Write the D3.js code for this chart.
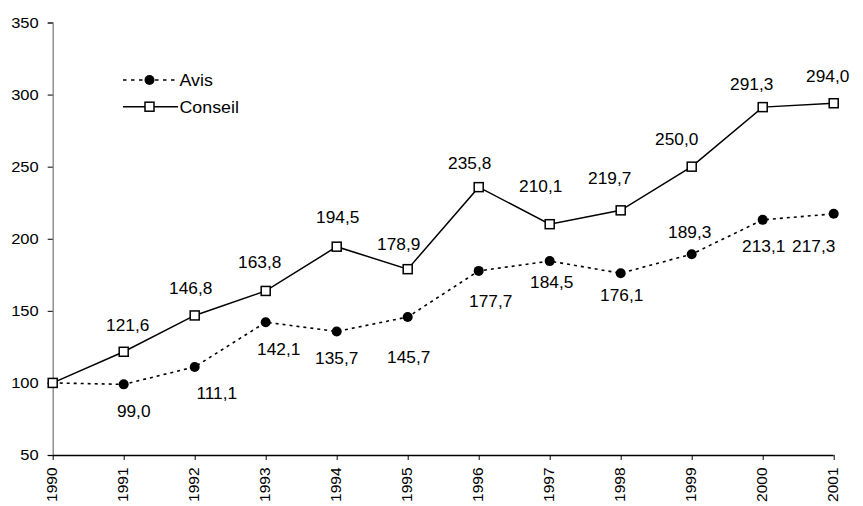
<!DOCTYPE html>
<html><head><meta charset="utf-8">
<script src="https://cdn.jsdelivr.net/npm/d3@7"></script>
<style>body{margin:0;background:#fff}svg{display:block}text{font-family:Arial,"Liberation Sans",sans-serif;fill:#000}</style>
</head><body><svg id="c" width="863" height="506"></svg>
<script>
const years = [1990,1991,1992,1993,1994,1995,1996,1997,1998,1999,2000,2001];
const avis = [100,99.0,111.1,142.1,135.7,145.7,177.7,184.5,176.1,189.3,213.1,217.3];
const conseil = [100,121.6,146.8,163.8,194.5,178.9,235.8,210.1,219.7,250.0,291.3,294.0];
const yTicks = [50,100,150,200,250,300,350];
const seriesNames = ["Avis","Conseil"];
// label nudges (dx, dy of label centre from its point), null = no label
const avisLabelNudge = [null,[10,27],[22,26],[13,27],[0,27],[1,40],[12,30],[2,21],[1,22],[-2,-22],[1,26],[-20,32]];
const conseilLabelNudge = [null,[4,-27],[-4,-27],[-6,-29],[1,-29],[-9,-25],[-9,-24],[-9,-38],[-11,-32],[-15,-27],[-11,-23],[-6,-27]];

const svg = d3.select("#c");
const x = d3.scalePoint().domain(years).range([52.7,833.7]);
const y = d3.scaleLinear().domain([50,350]).range([455,22.5]);
const fmt = v => d3.format(".1f")(v).replace(".",",");
const SX = 1.08;

// Y axis
const ya = svg.append("g").attr("transform","translate(52.7,0)")
  .call(d3.axisLeft(y).tickValues(yTicks).tickSize(5).tickPadding(9).tickFormat(d3.format("d")));
ya.attr("font-size",null).attr("font-family",null);
ya.select(".domain").attr("stroke","#808080").attr("stroke-width",1.3);
ya.selectAll(".tick line").attr("stroke","#000");
ya.selectAll(".tick text").style("font-size","15px")
  .each(function(){const t=d3.select(this);const xx=+t.attr("x");t.attr("x",null).attr("transform",`translate(${xx},0) scale(1.1,1)`);});

// X axis
const xa = svg.append("g").attr("transform","translate(0,455)")
  .call(d3.axisBottom(x).tickSize(5).tickSizeOuter(0).tickPadding(8).tickFormat(d3.format("d")));
xa.attr("font-size",null).attr("font-family",null);
xa.select(".domain").attr("stroke","#000").attr("stroke-width",1.3).attr("d","M52.7,0.5H833.7");
xa.selectAll(".tick line").attr("stroke","#000");
xa.selectAll(".tick text").style("font-size","15.5px")
  .attr("transform","rotate(-90)").attr("text-anchor","end").attr("dy","0.35em").attr("x",-12.5).attr("y",-1.2);

const line = d3.line().x((d,i)=>x(years[i])).y(d=>y(d));

// Conseil
svg.append("path").datum(conseil).attr("d",line).attr("fill","none").attr("stroke","#000").attr("stroke-width",1.5);
// Avis
svg.append("path").datum(avis).attr("d",line).attr("fill","none").attr("stroke","#000").attr("stroke-width",1.6).attr("stroke-dasharray","3,4");

svg.selectAll("circle.av").data(avis).enter().append("circle").attr("class","av")
  .attr("cx",(d,i)=>x(years[i])).attr("cy",d=>y(d)).attr("r",5).attr("fill","#000");
svg.selectAll("rect.co").data(conseil).enter().append("rect").attr("class","co")
  .attr("x",(d,i)=>x(years[i])-4.5).attr("y",d=>y(d)-4.5).attr("width",9).attr("height",9)
  .attr("fill","#fff").attr("stroke","#000").attr("stroke-width",1.5);

function labels(vals,nudge){
  vals.forEach((v,i)=>{
    const n=nudge[i]; if(!n) return;
    svg.append("text").style("font-size","16px").attr("text-anchor","middle").attr("dy","0.36em")
      .attr("transform",`translate(${x(years[i])+n[0]},${y(v)+n[1]}) scale(${SX},1)`).text(fmt(v));
  });
}
labels(conseil,conseilLabelNudge);
labels(avis,avisLabelNudge);

// Legend
const lg = svg.append("g");
[[80,"3.5,4.5",true],[106.7,null,false]].forEach((r,k)=>{
  const l = lg.append("line").attr("x1",123).attr("x2",178).attr("y1",r[0]).attr("y2",r[0]).attr("stroke","#000").attr("stroke-width",1.6);
  if(r[1]) l.attr("stroke-dasharray",r[1]);
  if(r[2]) lg.append("circle").attr("cx",149.5).attr("cy",r[0]).attr("r",5).attr("fill","#000");
  else lg.append("rect").attr("x",145).attr("y",r[0]-4.5).attr("width",9).attr("height",9).attr("fill","#fff").attr("stroke","#000").attr("stroke-width",1.5);
  lg.append("text").style("font-size","16.5px").attr("dy","0.36em").attr("transform",`translate(179.5,${r[0]}) scale(${SX},1)`).text(seriesNames[k]);
});
</script></body></html>
